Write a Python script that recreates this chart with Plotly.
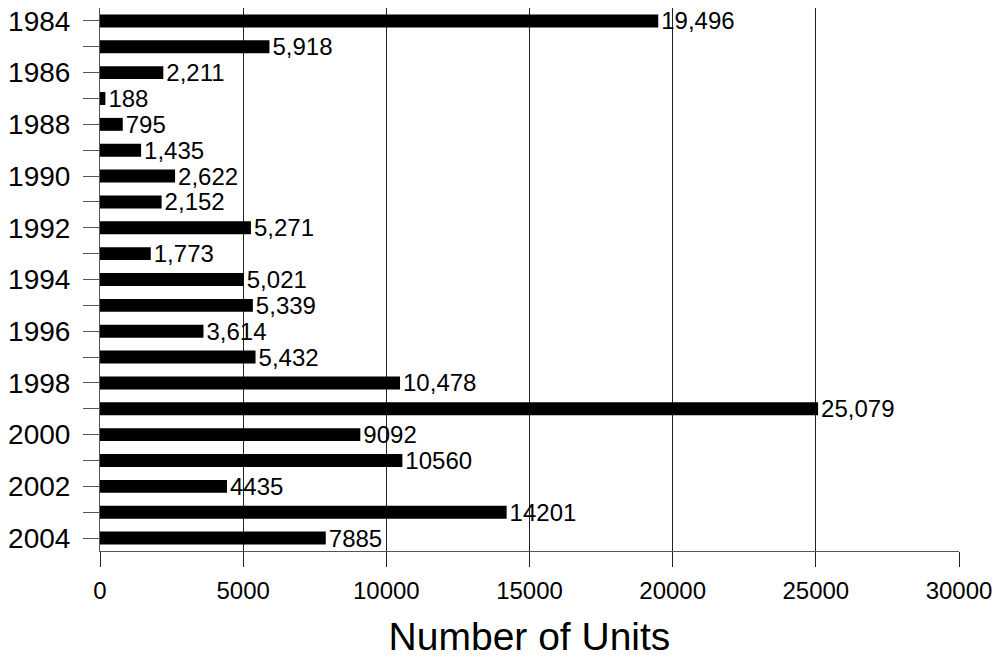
import plotly.graph_objects as go

# Units per year, 1984-2004
years = [str(y) for y in range(1984, 2005)]
units = [19496, 5918, 2211, 188, 795, 1435, 2622, 2152, 5271, 1773, 5021,
         5339, 3614, 5432, 10478, 25079, 9092, 10560, 4435, 14201, 7885]
unit_labels = ["19,496", "5,918", "2,211", "188", "795", "1,435", "2,622",
               "2,152", "5,271", "1,773", "5,021", "5,339", "3,614", "5,432",
               "10,478", "25,079", "9092", "10560", "4435", "14201", "7885"]
year_ticktext = [y if int(y) % 2 == 0 else "" for y in years]
x_ticks = [0, 5000, 10000, 15000, 20000, 25000, 30000]

FONT = "Liberation Sans, Arial, sans-serif"

fig = go.Figure(go.Bar(
    x=units,
    y=years,
    orientation="h",
    marker=dict(color="black", line=dict(width=0)),
    text=unit_labels,
    textposition="outside",
    constraintext="none",
    textfont=dict(family=FONT, size=24, color="black"),
    cliponaxis=False,
))

fig.update_layout(
    width=998,
    height=658,
    margin=dict(l=100, r=38, t=6, b=107),
    paper_bgcolor="white",
    plot_bgcolor="white",
    bargap=0.5,
    showlegend=False,
    font=dict(family=FONT, color="black"),
    xaxis=dict(
        range=[0, 30000],
        tickvals=x_ticks,
        ticktext=[str(v) for v in x_ticks],
        tickfont=dict(size=24),
        showgrid=True,
        gridcolor="#222",
        gridwidth=1,
        zeroline=False,
        showline=True,
        linecolor="#555",
        linewidth=1,
        ticks="outside",
        ticklen=15,
        tickcolor="#222",
        ticklabelstandoff=3,
        title=dict(text="Number of Units", font=dict(size=39), standoff=20),
    ),
    yaxis=dict(
        type="category",
        categoryorder="array",
        categoryarray=years,
        autorange="reversed",
        tickvals=years,
        ticktext=year_ticktext,
        tickfont=dict(size=28),
        showgrid=False,
        showline=True,
        linecolor="#555",
        linewidth=1,
        ticks="outside",
        ticklen=16,
        tickcolor="#555",
        ticklabelstandoff=7,
    ),
)

fig.write_html("out.html")
